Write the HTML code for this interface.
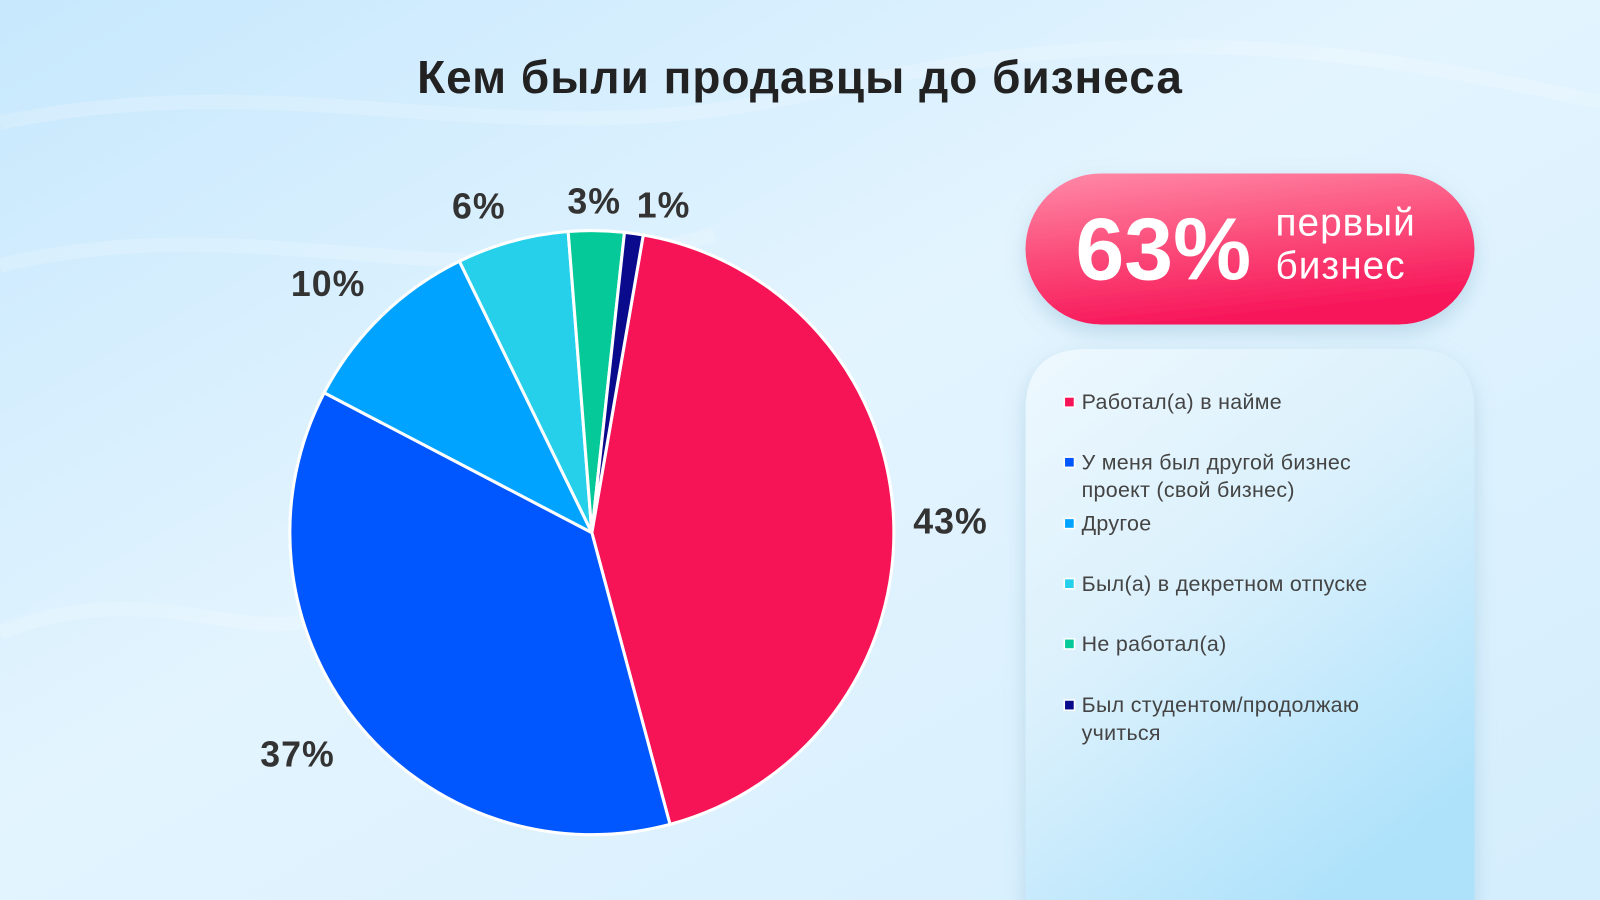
<!DOCTYPE html>
<html><head><meta charset="utf-8"><style>
html,body{margin:0;padding:0;width:1600px;height:900px;overflow:hidden}
svg{display:block}
text{font-family:"Liberation Sans","DejaVu Sans",sans-serif}
</style></head><body>
<svg width="1600" height="900" viewBox="0 0 1568 882" preserveAspectRatio="none" xmlns="http://www.w3.org/2000/svg">
<defs>
<linearGradient id="bg" x1="0" y1="0" x2="1" y2="1">
<stop offset="0" stop-color="#c7e8fd"/><stop offset="0.45" stop-color="#e3f4fe"/><stop offset="1" stop-color="#d4eefd"/>
</linearGradient>
<linearGradient id="pk" x1="0" y1="0" x2="0.3" y2="1">
<stop offset="0" stop-color="#ff8aa8"/><stop offset="0.5" stop-color="#fb4f7c"/><stop offset="1" stop-color="#f7175a"/>
</linearGradient>
<linearGradient id="lg" x1="0" y1="0" x2="0.6" y2="1">
<stop offset="0" stop-color="#eef8fe"/><stop offset="0.5" stop-color="#d9f0fc"/><stop offset="1" stop-color="#aee2fb"/>
</linearGradient>
<filter id="sh" x="-20%" y="-20%" width="140%" height="150%"><feDropShadow dx="0" dy="8" stdDeviation="10" flood-color="#7aa8c8" flood-opacity="0.35"/></filter>
</defs>
<rect width="1568" height="882" fill="url(#bg)"/>
<g fill="none" stroke="#ffffff" stroke-opacity="0.18" stroke-width="14">
<path d="M0 120 C300 60 500 160 800 90 S1300 40 1568 100"/>
<path d="M0 260 C250 200 450 300 700 230"/>
<path d="M0 620 C150 560 250 640 320 600"/>
</g>
<text x="784" y="91" text-anchor="middle" font-size="45" font-weight="bold" fill="#222" letter-spacing="1">Кем были продавцы до бизнеса</text>
<g stroke="#fff" stroke-width="3" stroke-linejoin="round">
<path d="M580 522 L630.4 230.3 A296 296 0 0 1 656.6 807.9 Z" fill="#f61457"/>
<path d="M580 522 L656.6 807.9 A296 296 0 0 1 317.7 384.9 Z" fill="#0057ff"/>
<path d="M580 522 L317.7 384.9 A296 296 0 0 1 450.2 256 Z" fill="#00a3ff"/>
<path d="M580 522 L450.2 256 A296 296 0 0 1 556.8 226.9 Z" fill="#26d0ea"/>
<path d="M580 522 L556.8 226.9 A296 296 0 0 1 612 227.7 Z" fill="#05c998"/>
<path d="M580 522 L612 227.7 A296 296 0 0 1 630.4 230.3 Z" fill="#0a0a8c"/>
</g>
<g font-size="35" font-weight="bold" fill="#333" letter-spacing="1">
<text x="895" y="523">43%</text>
<text x="255" y="751">37%</text>
<text x="285" y="290">10%</text>
<text x="443" y="214">6%</text>
<text x="556" y="209">3%</text>
<text x="624" y="213">1%</text>
</g>
<rect x="1005" y="170" width="440" height="148" rx="74" fill="url(#pk)" filter="url(#sh)"/>
<text x="1054" y="274" font-size="86" font-weight="bold" fill="#fff">63%</text>
<text x="1250" y="231" font-size="38" fill="#fff" letter-spacing="1">первый</text>
<text x="1250" y="273" font-size="38" fill="#fff" letter-spacing="1">бизнес</text>
<path d="M1005 902 L1005 402 Q1005 342 1065 342 L1385 342 Q1445 342 1445 402 L1445 902 Z" fill="url(#lg)" filter="url(#sh)"/>
<g font-size="21" fill="#444" letter-spacing="0.3">
<rect x="1043" y="389" width="10" height="10" fill="#f61457" stroke="#fff" stroke-width="1.5"/>
<text x="1060" y="401">Работал(а) в найме</text>
<rect x="1043" y="448" width="10" height="10" fill="#0057ff" stroke="#fff" stroke-width="1.5"/>
<text x="1060" y="460">У меня был другой бизнес</text>
<text x="1060" y="487">проект (свой бизнес)</text>
<rect x="1043" y="508" width="10" height="10" fill="#00a3ff" stroke="#fff" stroke-width="1.5"/>
<text x="1060" y="520">Другое</text>
<rect x="1043" y="567" width="10" height="10" fill="#26d0ea" stroke="#fff" stroke-width="1.5"/>
<text x="1060" y="579">Был(а) в декретном отпуске</text>
<rect x="1043" y="626" width="10" height="10" fill="#05c998" stroke="#fff" stroke-width="1.5"/>
<text x="1060" y="638">Не работал(а)</text>
<rect x="1043" y="686" width="10" height="10" fill="#0a0a8c" stroke="#fff" stroke-width="1.5"/>
<text x="1060" y="698">Был студентом/продолжаю</text>
<text x="1060" y="725">учиться</text>
</g>
</svg>
</body></html>
